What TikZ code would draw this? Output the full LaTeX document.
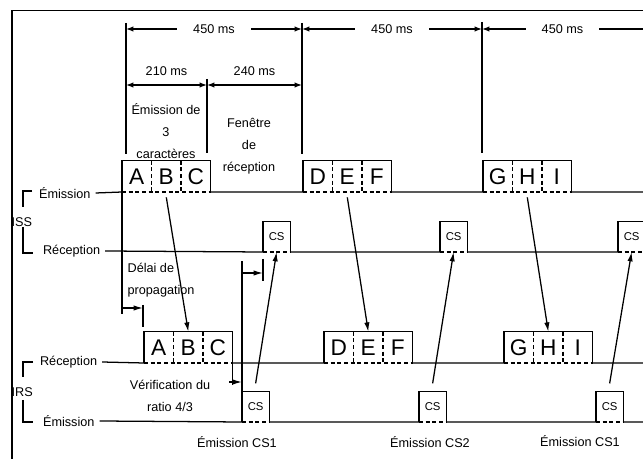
\documentclass[tikz,border=0pt]{standalone}
\usepackage{fontspec}
\setmainfont{Liberation Sans}
\usepackage{tikz}
\usetikzlibrary{positioning,arrows.meta}

\begin{document}
\begin{tikzpicture}[x=0.75pt,y=-0.75pt,line width=0.95pt,font=\fontsize{9.5}{11}\selectfont,
  car/.style={minimum width=21.2pt,minimum height=22.5pt,inner sep=0pt,font=\fontsize{17}{17}\selectfont},
  csbox/.style={minimum width=19.5pt,minimum height=22pt,inner sep=0pt,font=\fontsize{8.5}{9}\selectfont},
  dashe/.style={dash pattern=on 3pt off 2pt},
  dim/.style={{Latex[length=5.5pt,width=4pt]}-{Latex[length=5.5pt,width=4pt]}},
  arr/.style={-{Latex[length=7pt,width=4pt]}},
  note/.style={align=center,font=\fontsize{9.5}{16.5}\selectfont}]
\useasboundingbox (0,0) rectangle (643,459);
% cadre
\draw (643,10.5) -| (12,459);
% cotes de temps
\draw (126,23) -- (126,154) (207,79) -- (207,153) (302,23) -- (302,154) (482,22) -- (482,153);
\coordinate (t0) at (126,29);
\coordinate (t2) at (302,29);
\coordinate (t3) at (482,29);
\coordinate (tend) at (643,29);
\coordinate (m0) at (126,85);
\coordinate (m1) at (207,85);
\coordinate (m2) at (302,85);
\draw[dim] (t0) -- node[fill=white,inner xsep=12pt] {450 ms} (t2);
\draw[dim] (t2) -- node[fill=white,inner xsep=12pt] {450 ms} (t3);
\draw[{Latex[length=5.5pt,width=4pt]}-] (t3) -- node[fill=white,inner xsep=12pt] {450 ms} (tend);
\draw[dim] (m0) -- node[above=3pt] {210 ms} (m1);
\draw[dim] (m1) -- node[above=3pt] {240 ms} (m2);
\node[note] at (166,131) {Émission de\\3\\caractères};
\node[note] at (249,146) {Fenêtre\\de\\réception};
% voies ISS et IRS
\node[anchor=west] (lbl1) at (34,193) {Émission};
\node[anchor=west] (lbl2) at (38,251) {Réception};
\node[anchor=west] (lbl3) at (35,362) {Réception};
\node[anchor=west] (lbl4) at (38,421) {Émission};
\node[anchor=west,inner sep=0pt] at (11,222) {ISS};
\node[anchor=west,inner sep=0pt] at (11,392) {IRS};
\draw (32,191) -| (23,207);
\draw (23,227) |- (33,253);
\draw (33,362) -| (23,377);
\draw (23,400) |- (33,422);
% trames de 3 caractères
\foreach \g/\x/\y/\la/\lb/\lc in {u1/122/192/A/B/C, u2/303/192/D/E/F, u3/483/192/G/H/I,
  l1/144/363/A/B/C, l2/324/363/D/E/F, l3/504/363/G/H/I}{
  \node[car,anchor=south west] (\g a) at (\x,\y) {\la};
  \node[car,right=0pt of \g a] (\g b) {\lb};
  \node[car,right=0pt of \g b] (\g c) {\lc};
  \draw (\g a.south west) |- (\g c.north east) -- (\g c.south east);
  \draw[dashe] (\g a.south west) -- (\g c.south east) (\g a.north east) -- (\g a.south east)
    (\g b.north east) -- (\g b.south east);
}
% caractères de contrôle CS
\foreach \g/\x/\y in {r1/263/252, r2/440/252, r3/618/252, s1/242/422, s2/419/422, s3/596/422}{
  \node[csbox,anchor=south west] (\g) at (\x,\y) {CS};
  \draw (\g.south west) |- (\g.north east) -- (\g.south east);
  \draw[dashe] (\g.south west) -- (\g.south east);
}
\coordinate (e1) at (643,192);
\coordinate (e3) at (643,363);
\coordinate (e4) at (643,422);
\draw (lbl1.east) -- (u1a.south west) (u1c.south east) -- (u2a.south west)
  (u2c.south east) -- (u3a.south west) (u3c.south east) -- (e1);
\draw (lbl2.east) -- (r1.south west) (r1.south east) -- (r2.south west) (r2.south east) -- (r3.south west);
\draw (lbl3.east) -- (l1a.south west) (l1c.south east) -- (l2a.south west)
  (l2c.south east) -- (l3a.south west) (l3c.south east) -- (e3);
\draw (lbl4.east) -- (s1.south west) (s1.south east) -- (s2.south west)
  (s2.south east) -- (s3.south west) (s3.south east) -- (e4);
% propagation
\foreach \i in {1,2,3}{
  \draw[arr] ([yshift=-4pt]u\i b.south) -- (l\i b.north);
  \draw[arr] ([yshift=6pt]s\i.north) -- (r\i.south);
}
% délais
\draw (u1a.south west) -- ++(0,122);
\draw[arr] (122,308) -- (143,308);
\draw (143,305) -- (143,327);
\node[note,anchor=west,align=left,inner sep=0pt] at (127,280) {Délai de\\propagation};
\draw (l1c.south east) -- ++(0,22);
\draw[arr] (229,382) -- (242,382);
\draw (s1.north west) -- ++(0,-130);
\draw[arr] (242,273) -- (263,273);
\draw (263,259) -- (263,281);
\node[note] at (170,396) {Vérification du\\ratio 4/3};
\node at (237,442) {Émission CS1};
\node at (430,442) {Émission CS2};
\node at (580,441) {Émission CS1};
\end{tikzpicture}
\end{document}
